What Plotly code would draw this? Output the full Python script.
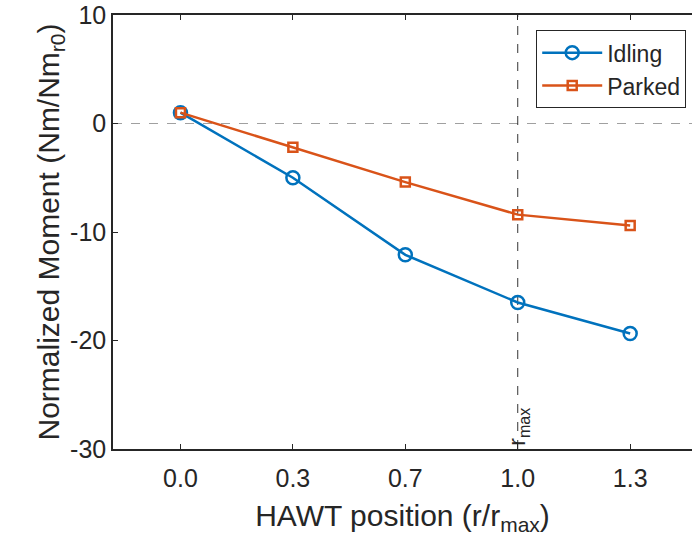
import plotly.graph_objects as go

tick_labels = ["0.0", "0.3", "0.7", "1.0", "1.3"]
positions = [0, 1, 2, 3, 4]
idling = [1.0, -5.0, -12.1, -16.5, -19.35]
parked = [1.0, -2.2, -5.4, -8.4, -9.4]
y_ticks = [-30, -20, -10, 0, 10]
y_tick_text = ["-30", "-20", "-10", "0", "10"]

blue = "#0072BD"
orange = "#D95319"
axc = "#262626"
font = "Liberation Sans, Arial, sans-serif"

fig = go.Figure()
fig.add_trace(go.Scatter(x=positions, y=idling, name="Idling", mode="lines+markers",
                         line=dict(color=blue, width=2.5),
                         marker=dict(symbol="circle-open", size=13, color=blue, line=dict(width=2.5))))
fig.add_trace(go.Scatter(x=positions, y=parked, name="Parked", mode="lines+markers",
                         line=dict(color=orange, width=2.5),
                         marker=dict(symbol="square-open", size=9, color=orange, line=dict(width=2.5))))

fig.add_shape(type="line", xref="paper", yref="y", x0=0, x1=1, y0=0, y1=0,
              line=dict(color="#a0a0a0", width=1, dash="dash"), layer="below")
fig.add_shape(type="line", xref="x", yref="paper", x0=3, x1=3, y0=0, y1=1,
              line=dict(color="#333333", width=1, dash="dash"), layer="below")
fig.add_annotation(x=3, y=-30, xref="x", yref="y", text="r<sub>max</sub>", textangle=-90,
                   showarrow=False, xanchor="center", yanchor="bottom", xshift=0, yshift=1,
                   font=dict(family=font, size=23, color=axc))

fig.update_layout(
    width=693, height=546,
    margin=dict(l=113, r=1, t=13, b=97),
    paper_bgcolor="white", plot_bgcolor="white",
    font=dict(family=font, size=25, color=axc),
    showlegend=True,
    legend=dict(x=0.99, y=0.965, xanchor="right", yanchor="top",
                bordercolor=axc, borderwidth=1, bgcolor="white",
                font=dict(size=23), itemwidth=60, tracegroupgap=0),
)
fig.update_xaxes(range=[-0.6, 4.55], tickvals=positions, ticktext=tick_labels,
                 showgrid=False, zeroline=False, showline=True, linecolor=axc, linewidth=1.5,
                 ticks="inside", ticklen=5, tickcolor=axc, mirror="ticks",
                 ticklabeloverflow="allow", ticklabelstandoff=6,
                 title=dict(text="HAWT position (r/r<sub>max</sub>)", font=dict(size=30), standoff=14),
                 tickfont=dict(size=25))
fig.update_yaxes(range=[-30, 10], tickvals=y_ticks, ticktext=y_tick_text,
                 showgrid=False, zeroline=False, showline=True, linecolor=axc, linewidth=1.5,
                 ticks="inside", ticklen=5, tickcolor=axc,
                 ticklabeloverflow="allow",
                 title=dict(text="Normalized Moment (Nm/Nm<sub>r0</sub>)", font=dict(size=30), standoff=2),
                 tickfont=dict(size=25))

fig.write_html("out.html")
